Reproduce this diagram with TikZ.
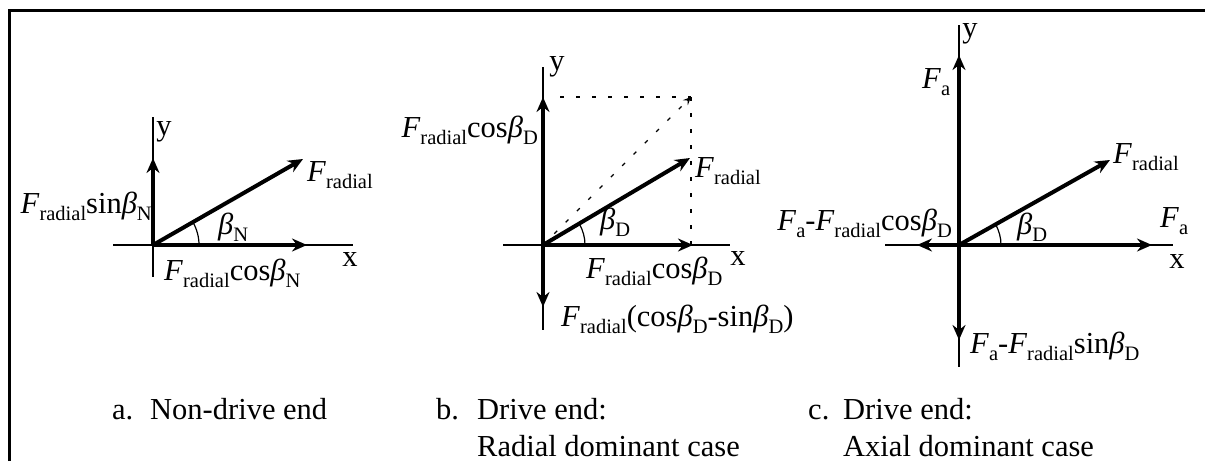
\documentclass[tikz,border=0pt]{standalone}
\usepackage{fontspec}
\setmainfont{Liberation Serif}
\usetikzlibrary{arrows.meta}
\newcommand{\sbs}[1]{\lower7pt\hbox{\fontsize{20.5pt}{20.5pt}\selectfont #1}}
\newcommand{\Frad}{\textit{F}\sbs{radial}}
\newcommand{\Fax}{\textit{F}\sbs{a}}
\newcommand{\bN}{\textit{β}\sbs{N}}
\newcommand{\bD}{\textit{β}\sbs{D}}
\begin{document}
\begin{tikzpicture}[x=1pt,y=-1pt,
  thinax/.style={line width=1.2pt},
  vec/.style={line width=4pt,-{Stealth[length=15pt,width=13pt,inset=5pt]}},
  guide/.style={line width=1.3pt,dash pattern=on 4pt off 12pt},
  lbl/.style={inner sep=0pt,font=\fontsize{30.5pt}{36pt}\selectfont},
  frame/.style={line width=3pt,line join=miter}]
\useasboundingbox (0,0) rectangle (1205,461);
\draw[frame] (9,461) -- (9,10) -- (1205,10);

% ---------- panel a ----------
\coordinate (Oa) at (153,245);
\coordinate (ya1) at (153,117); \coordinate (ya2) at (153,277);
\coordinate (xa1) at (113,245); \coordinate (xa2) at (353,245);
\coordinate (aUp) at (153,158); \coordinate (aRt) at (307,245);
\coordinate (aF) at (303,159);
\draw[thinax] (ya1) -- (ya2);
\draw[thinax] (xa1) -- (xa2);
\draw[vec] (Oa) -- (aUp);
\draw[vec] (Oa) -- (aRt);
\draw[vec] (Oa) -- (aF);
\draw[thinax] ([shift={(46,0)}]Oa) arc[start angle=0,end angle=-29.8,radius=46];
\node[lbl,anchor=base] (ay) at (164,135) {y};
\node[lbl,anchor=base] (ax) at (350,266) {x};
\node[lbl,anchor=base west] (aFl) at (307,181) {\Frad};
\node[lbl,anchor=base east] (aSin) at (152,213) {\Frad sin\bN};
\node[lbl,anchor=base west] (aB) at (218,234) {\bN};
\node[lbl,anchor=base west] (aCos) at (164,280) {\Frad cos\bN};
\node[lbl,anchor=base west] (aCap1) at (112,419) {a.};
\node[lbl,anchor=base west] (aCap2) at (150,419) {Non-drive end};

% ---------- panel b ----------
\coordinate (Ob) at (543,245);
\coordinate (yb1) at (543,67); \coordinate (yb2) at (543,330);
\coordinate (xb1) at (503,245); \coordinate (xb2) at (730,245);
\coordinate (bUp) at (543,97); \coordinate (bDn) at (543,307);
\coordinate (bRt) at (693,245); \coordinate (bF) at (690,158);
\coordinate (bTL) at (560,97); \coordinate (bTR) at (691,97);
\coordinate (bBR) at (691,245);
\draw[thinax] (yb1) -- (yb2);
\draw[thinax] (xb1) -- (xb2);
\draw[guide] (bTL) -- (bTR);
\draw[guide] (bTR) -- (bBR);
\draw[guide,-{Stealth[length=8pt,width=7pt,inset=3pt]}] (Ob) -- (bTR);
\draw[vec] (Ob) -- (bUp);
\draw[vec] (Ob) -- (bDn);
\draw[vec] (Ob) -- (bRt);
\draw[vec] (Ob) -- (bF);
\draw[thinax] ([shift={(42,0)}]Ob) arc[start angle=0,end angle=-30.6,radius=42];
\node[lbl,anchor=base] (by) at (557,70) {y};
\node[lbl,anchor=base] (bx) at (738,265) {x};
\node[lbl,anchor=base west] (bFl) at (695,177) {\Frad};
\node[lbl,anchor=base east] (bCosT) at (538,137) {\Frad cos\bD};
\node[lbl,anchor=base west] (bB) at (600,229) {\bD};
\node[lbl,anchor=base west] (bCos) at (586,278) {\Frad cos\bD};
\node[lbl,anchor=base west] (bDiff) at (561,326) {\Frad(cos\bD-sin\bD)};
\node[lbl,anchor=base west] (bCap1) at (436,419) {b.};
\node[lbl,anchor=base west] (bCap2) at (477,419) {Drive end:};
\node[lbl,anchor=base west] (bCap3) at (477,456) {Radial dominant case};

% ---------- panel c ----------
\coordinate (Oc) at (959,245);
\coordinate (yc1) at (959,25); \coordinate (yc2) at (959,367);
\coordinate (xc1) at (885,245); \coordinate (xc2) at (1173,245);
\coordinate (cUp) at (959,55); \coordinate (cDn) at (959,340);
\coordinate (cLt) at (917,245); \coordinate (cRt) at (1152,245);
\coordinate (cF) at (1110,160);
\draw[thinax] (yc1) -- (yc2);
\draw[thinax] (xc1) -- (xc2);
\draw[vec] (Oc) -- (cUp);
\draw[vec] (Oc) -- (cDn);
\draw[vec] (Oc) -- (cLt);
\draw[vec] (Oc) -- (cRt);
\draw[vec] (Oc) -- (cF);
\draw[thinax] ([shift={(42,0)}]Oc) arc[start angle=0,end angle=-29.4,radius=42];
\node[lbl,anchor=base] (cy) at (970,37) {y};
\node[lbl,anchor=base] (cx) at (1177,268) {x};
\node[lbl,anchor=base west] (cFaT) at (922,88) {\Fax};
\node[lbl,anchor=base west] (cFl) at (1113,163) {\Frad};
\node[lbl,anchor=base east] (cCos) at (952,230) {\Fax-\Frad cos\bD};
\node[lbl,anchor=base west] (cB) at (1017,234) {\bD};
\node[lbl,anchor=base west] (cFaR) at (1160,227) {\Fax};
\node[lbl,anchor=base west] (cSin) at (970,353) {\Fax-\Frad sin\bD};
\node[lbl,anchor=base west] (cCap1) at (808,419) {c.};
\node[lbl,anchor=base west] (cCap2) at (843,419) {Drive end:};
\node[lbl,anchor=base west] (cCap3) at (843,456) {Axial dominant case};
\end{tikzpicture}
\end{document}
